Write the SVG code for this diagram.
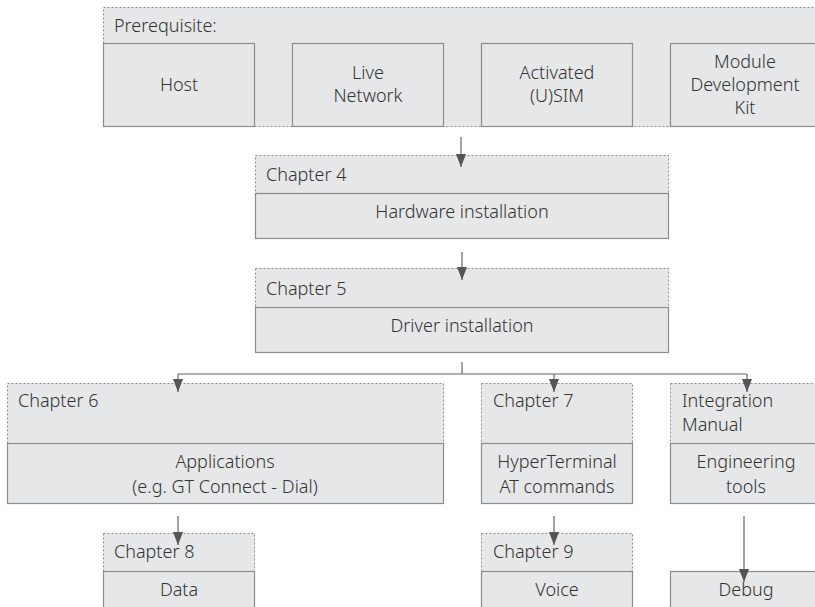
<svg xmlns="http://www.w3.org/2000/svg" width="815" height="607" viewBox="0 0 815 607">
<defs>
<style>
.dot{fill:#e6e7e8;stroke:#8c8c8c;stroke-width:1;stroke-dasharray:2,2}
.box{fill:#e6e7e8;stroke:#8c8c8c;stroke-width:1.2}
text{font-family:"Noto Sans","Open Sans",sans-serif;font-size:18px;font-weight:300;fill:#333}
.c{text-anchor:middle}
.ln{fill:none;stroke:#666;stroke-width:1.2}
.ar{fill:none;stroke:#666;stroke-width:1.2;marker-end:url(#ah)}
</style>
<marker id="ah" markerUnits="userSpaceOnUse" markerWidth="13" markerHeight="11" refX="13" refY="5" orient="auto" viewBox="0 0 13 10">
<path d="M0,0 L13,5 L0,10 Z" fill="#555"/>
</marker>
</defs>
<rect width="815" height="607" fill="#fff"/>
<g id="prerequisite">
<rect class="dot" x="103.5" y="7.5" width="719" height="119"/>
<text x="114" y="32">Prerequisite:</text>
</g>
<g id="host">
<rect class="box" x="103.5" y="43.5" width="151" height="83"/>
<text class="c" x="179" y="91">Host</text>
</g>
<g id="live-network">
<rect class="box" x="292.5" y="43.5" width="151" height="83"/>
<text class="c" x="368" y="79">Live</text>
<text class="c" x="368" y="102">Network</text>
</g>
<g id="usim">
<rect class="box" x="481.5" y="43.5" width="151" height="83"/>
<text class="c" x="557" y="79">Activated</text>
<text class="c" x="557" y="102">(U)SIM</text>
</g>
<g id="mdk">
<rect class="box" x="670.5" y="43.5" width="151" height="83"/>
<text class="c" x="745" y="68">Module</text>
<text class="c" x="745" y="91">Development</text>
<text class="c" x="745" y="114">Kit</text>
</g>
<g id="chapter4">
<rect class="dot" x="255.5" y="155.5" width="413" height="83"/>
<text x="266" y="181">Chapter 4</text>
<rect class="box" x="255.5" y="193.5" width="413" height="45"/>
<text class="c" x="462" y="218">Hardware installation</text>
</g>
<g id="chapter5">
<rect class="dot" x="255.5" y="268.5" width="413" height="84"/>
<text x="266" y="295">Chapter 5</text>
<rect class="box" x="255.5" y="307.5" width="413" height="45"/>
<text class="c" x="462" y="332">Driver installation</text>
</g>
<g id="chapter6">
<rect class="dot" x="7.5" y="383.5" width="436" height="120"/>
<text x="18" y="407">Chapter 6</text>
<rect class="box" x="7.5" y="443.5" width="436" height="60"/>
<text class="c" x="225" y="468">Applications</text>
<text class="c" x="225" y="493">(e.g. GT Connect - Dial)</text>
</g>
<g id="chapter7">
<rect class="dot" x="481.5" y="383.5" width="151" height="120"/>
<text x="493" y="407">Chapter 7</text>
<rect class="box" x="481.5" y="443.5" width="151" height="60"/>
<text class="c" x="557" y="468">HyperTerminal</text>
<text class="c" x="557" y="493">AT commands</text>
</g>
<g id="integration">
<rect class="dot" x="670.5" y="383.5" width="151" height="120"/>
<text x="682" y="407">Integration</text>
<text x="682" y="431">Manual</text>
<rect class="box" x="670.5" y="443.5" width="151" height="60"/>
<text class="c" x="746" y="468">Engineering</text>
<text class="c" x="746" y="493">tools</text>
</g>
<g id="chapter8">
<rect class="dot" x="103.5" y="533.5" width="151" height="80"/>
<text x="114" y="558">Chapter 8</text>
<rect class="box" x="103.5" y="571.5" width="151" height="45"/>
<text class="c" x="179" y="596">Data</text>
</g>
<g id="chapter9">
<rect class="dot" x="481.5" y="533.5" width="151" height="80"/>
<text x="493" y="558">Chapter 9</text>
<rect class="box" x="481.5" y="571.5" width="151" height="45"/>
<text class="c" x="557" y="596">Voice</text>
</g>
<g id="debug">
<rect class="box" x="670.5" y="571.5" width="151" height="45"/>
<text class="c" x="746" y="596">Debug</text>
</g>
<g id="connectors">
<line class="ar" x1="461" y1="137" x2="461" y2="167"/>
<line class="ar" x1="462" y1="252" x2="462" y2="280"/>
<polyline class="ln" points="462,362 462,374"/>
<polyline class="ln" points="178,374 747,374"/>
<line class="ar" x1="178" y1="374" x2="178" y2="392"/>
<line class="ar" x1="554" y1="374" x2="554" y2="392"/>
<line class="ar" x1="747" y1="374" x2="747" y2="392"/>
<line class="ar" x1="178" y1="516" x2="178" y2="545"/>
<line class="ar" x1="554" y1="516" x2="554" y2="545"/>
<line class="ar" x1="744" y1="516" x2="744" y2="582"/>
</g>
</svg>
